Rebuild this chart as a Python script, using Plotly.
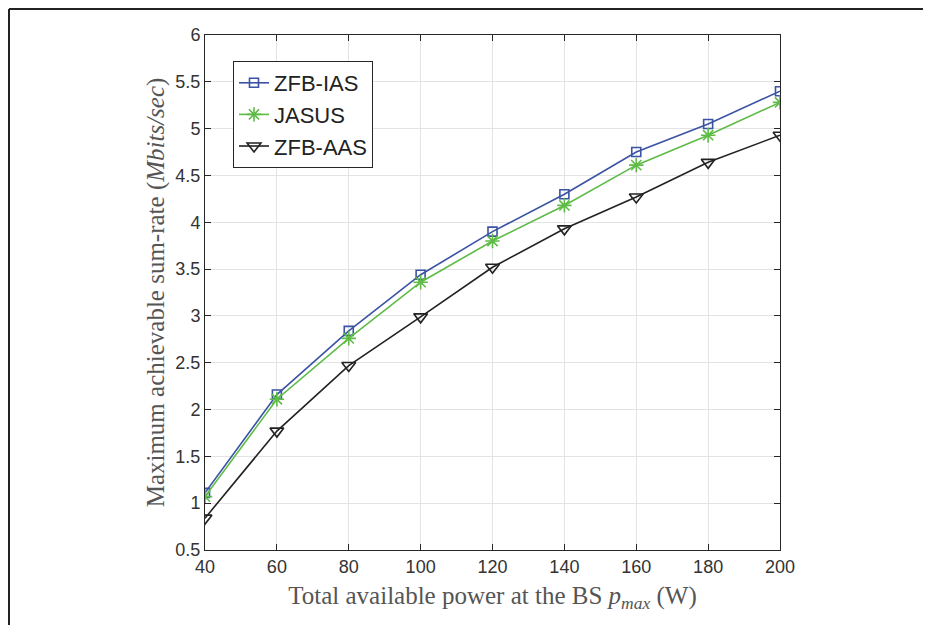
import plotly.graph_objects as go

power = [40, 60, 80, 100, 120, 140, 160, 180, 200]
zfb_ias = [1.11, 2.16, 2.84, 3.44, 3.90, 4.30, 4.75, 5.05, 5.40]
jasus = [1.07, 2.11, 2.76, 3.36, 3.80, 4.18, 4.61, 4.93, 5.28]
zfb_aas = [0.84, 1.77, 2.47, 2.99, 3.52, 3.93, 4.27, 4.64, 4.93]

x_ticks = [40, 60, 80, 100, 120, 140, 160, 180, 200]
y_ticks = [0.5, 1, 1.5, 2, 2.5, 3, 3.5, 4, 4.5, 5, 5.5, 6]
y_tick_text = ["0.5", "1", "1.5", "2", "2.5", "3", "3.5", "4", "4.5", "5", "5.5", "6"]

W, H = 923, 617
L, R, T, B = 197, 151, 27, 75
PW, PH = W - L - R, H - T - B

fig = go.Figure()
fig.add_trace(go.Scatter(x=power, y=zfb_ias, name="ZFB-IAS", mode="lines+markers", legendgroup="a",
                         line=dict(color="#3A53A4", width=1.6),
                         marker=dict(symbol="square-open", size=9, color="#3A53A4", line=dict(width=1.6))))
fig.add_trace(go.Scatter(x=power, y=jasus, name="JASUS", mode="lines+markers", legendgroup="b",
                         line=dict(color="#5DBB46", width=1.6),
                         marker=dict(symbol="asterisk-open", size=12, color="#5DBB46", line=dict(width=1.6, color="#5DBB46"))))
fig.add_trace(go.Scatter(x=power, y=zfb_aas, name="ZFB-AAS", mode="lines+markers", legendgroup="c",
                         line=dict(color="#222222", width=1.6),
                         marker=dict(symbol="triangle-down-open", size=12, color="#222222", line=dict(width=1.6))))

axis_common = dict(showline=True, linecolor="#262626", linewidth=1, mirror="ticks",
                   ticks="inside", ticklen=6, tickcolor="#262626",
                   showgrid=True, gridcolor="#e3e3e3", gridwidth=1, zeroline=False,
                   tickfont=dict(family="Liberation Sans, Arial", size=18, color="#333333"))

title_font = dict(family="Liberation Serif, Times New Roman", size=25, color="#555555")

fig.update_layout(
    width=W, height=H,
    margin=dict(l=L, r=R, t=T, b=B),
    paper_bgcolor="white", plot_bgcolor="white",
    xaxis=dict(range=[40, 200], tickvals=x_ticks, **axis_common,
               title=dict(text="Total available power at the BS <i>p</i><sub><i>max</i></sub> (W)",
                          font=title_font, standoff=10)),
    yaxis=dict(range=[0.5, 6], tickvals=y_ticks, ticktext=y_tick_text, **axis_common,
               title=dict(text="Maximum achievable sum-rate (<i>Mbits/sec</i>)",
                          font=title_font, standoff=3)),
    legend=dict(x=(233 - 8 - L) / PW, y=1 - (61 - 35) / PH, xanchor="left", yanchor="top",
                bgcolor="white", bordercolor="#262626", borderwidth=1,
                font=dict(family="Liberation Sans, Arial", size=22, color="#222222"),
                itemwidth=30, tracegroupgap=0),
    showlegend=True,
)

# outer frame lines (top and left), drawn at the page's edge
fig.add_shape(type="line", xref="paper", yref="paper",
              x0=(1 - L) / PW, x1=(W - L) / PW, y0=(H - B - 1) / PH, y1=(H - B - 1) / PH,
              line=dict(color="#222222", width=2))
fig.add_shape(type="line", xref="paper", yref="paper",
              x0=(1 - L) / PW, x1=(1 - L) / PW, y0=(H - B - 1) / PH, y1=-B / PH,
              line=dict(color="#222222", width=2))

fig.write_html("out.html")
